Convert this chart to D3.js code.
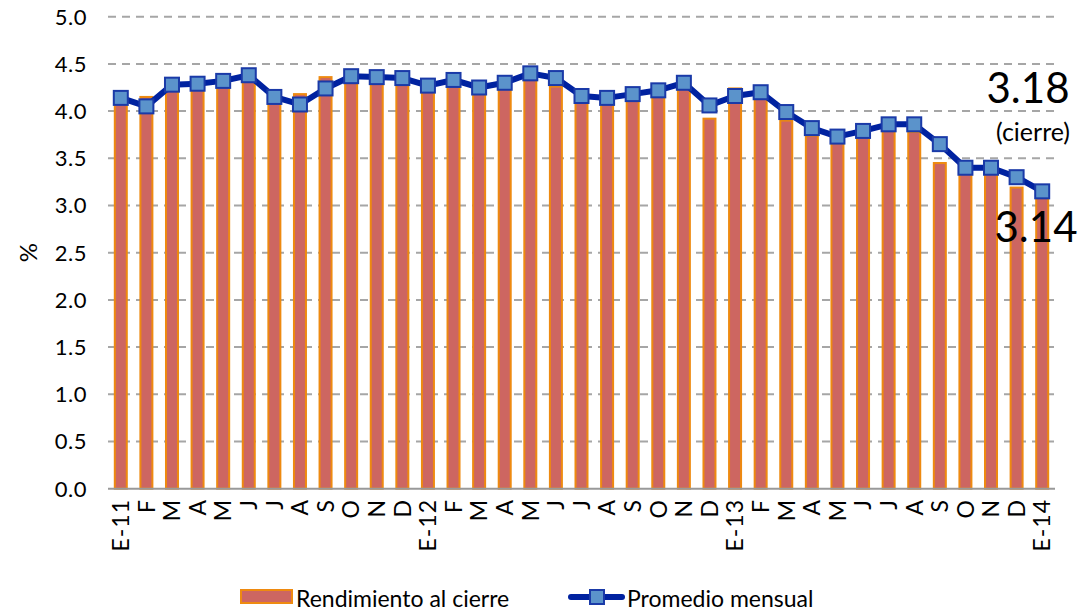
<!DOCTYPE html>
<html>
<head>
  <meta charset="UTF-8">
  <title>Rendimiento</title>
  <style>
    body { margin: 0; background: #fff; }
    svg { font-family: Lato, "DejaVu Sans", sans-serif; }
  </style>
</head>
<body>
  <svg id="chart" width="1079" height="611"></svg>

  <script src="https://d3js.org/d3.v7.min.js"></script>
  <script>
    // months E-11 .. E-14
    var months = ["E-11","F","M","A","M","J","J","A","S","O","N","D",
                  "E-12","F","M","A","M","J","J","A","S","O","N","D",
                  "E-13","F","M","A","M","J","J","A","S","O","N","D",
                  "E-14"];

    // end of month yield (bars)
    var cierre = [4.10,4.15,4.25,4.27,4.38,4.32,4.10,4.18,4.36,4.30,4.33,4.30,
                  4.22,4.28,4.18,4.25,4.34,4.26,4.10,4.10,4.12,4.15,4.25,3.92,
                  4.24,4.13,3.90,3.74,3.66,3.74,3.80,3.78,3.45,3.34,3.35,3.19,
                  3.18];

    // monthly average (line)
    var promedio = [4.14,4.05,4.28,4.29,4.32,4.38,4.15,4.07,4.24,4.37,4.36,4.35,
                    4.27,4.33,4.25,4.30,4.40,4.35,4.16,4.14,4.18,4.22,4.30,4.06,
                    4.16,4.20,3.99,3.82,3.73,3.79,3.86,3.86,3.65,3.40,3.40,3.30,
                    3.15];

    var yTicks = [0,0.5,1,1.5,2,2.5,3,3.5,4,4.5,5];

    var svg = d3.select("#chart");
    var plotLeft = 108, plotRight = 1055, plotTop = 16.7, plotBottom = 488.7;

    var x = d3.scaleBand()
      .domain(d3.range(months.length))
      .range([plotLeft, plotRight])
      .padding(0);

    var y = d3.scaleLinear()
      .domain([0, 5])
      .range([plotBottom, plotTop]);

    // grid lines
    svg.append("g")
      .selectAll("line")
      .data(yTicks.slice(1))
      .enter().append("line")
        .attr("x1", plotLeft)
        .attr("x2", plotRight)
        .attr("y1", function(d) { return y(d); })
        .attr("y2", function(d) { return y(d); })
        .attr("stroke", "#a6a6a6")
        .attr("stroke-width", 2)
        .attr("stroke-dasharray", "8,6");

    // y labels
    svg.append("g")
      .selectAll("text")
      .data(yTicks)
      .enter().append("text")
        .attr("x", 87)
        .attr("y", function(d) { return y(d); })
        .attr("dy", "0.36em")
        .attr("text-anchor", "end")
        .attr("font-size", 22)
        .attr("letter-spacing", 0.5)
        .attr("fill", "#000")
        .text(function(d) { return d3.format(".1f")(d); });

    svg.append("text")
      .attr("transform", "translate(37," + y(2.5) + ") rotate(-90)")
      .attr("text-anchor", "middle")
      .attr("font-size", 24)
      .text("%");

    // bars
    var bw = 12;
    svg.append("g")
      .selectAll("rect")
      .data(cierre)
      .enter().append("rect")
        .attr("x", function(d, i) { return x(i) + x.bandwidth() / 2 - bw / 2; })
        .attr("y", function(d) { return y(d); })
        .attr("width", bw)
        .attr("height", function(d) { return y(0) - y(d); })
        .attr("fill", "#cd6661")
        .attr("stroke", "#ee8a10")
        .attr("stroke-width", 2);

    // baseline
    svg.append("line")
      .attr("x1", plotLeft).attr("x2", plotRight)
      .attr("y1", y(0)).attr("y2", y(0))
      .attr("stroke", "#999")
      .attr("stroke-width", 2);

    // x labels
    svg.append("g")
      .selectAll("text")
      .data(months)
      .enter().append("text")
        .attr("transform", function(d, i) {
          return "translate(" + (x(i) + x.bandwidth() / 2) + ",499) rotate(-90)";
        })
        .attr("text-anchor", "end")
        .attr("dy", "0.36em")
        .attr("font-size", 23)
        .attr("letter-spacing", 1)
        .text(function(d) { return d; });

    // line
    var line = d3.line()
      .x(function(d, i) { return x(i) + x.bandwidth() / 2; })
      .y(function(d) { return y(d); });

    svg.append("path")
      .datum(promedio)
      .attr("d", line)
      .attr("fill", "none")
      .attr("stroke", "#0022a0")
      .attr("stroke-width", 6)
      .attr("stroke-linejoin", "round");

    var ms = 14;
    svg.append("g")
      .selectAll("rect")
      .data(promedio)
      .enter().append("rect")
        .attr("x", function(d, i) { return x(i) + x.bandwidth() / 2 - ms / 2; })
        .attr("y", function(d) { return y(d) - ms / 2; })
        .attr("width", ms)
        .attr("height", ms)
        .attr("fill", "#5b93cb")
        .attr("stroke", "#1a3aa8")
        .attr("stroke-width", 2);

    // annotations
    svg.append("text")
      .attr("x", 1028).attr("y", 103)
      .attr("text-anchor", "middle")
      .attr("font-size", 42)
      .text("3.18");
    svg.append("text")
      .attr("x", 1033).attr("y", 141)
      .attr("text-anchor", "middle")
      .attr("font-size", 25)
      .text("(cierre)");
    svg.append("text")
      .attr("x", 1036).attr("y", 242)
      .attr("text-anchor", "middle")
      .attr("font-size", 42)
      .text("3.14");

    // legend
    var lg = svg.append("g");
    lg.append("rect")
      .attr("x", 241).attr("y", 590)
      .attr("width", 51).attr("height", 13)
      .attr("fill", "#cd6661")
      .attr("stroke", "#ee8a10")
      .attr("stroke-width", 2);
    lg.append("text")
      .attr("x", 296).attr("y", 607)
      .attr("font-size", 23)
      .text("Rendimiento al cierre");

    lg.append("line")
      .attr("x1", 571).attr("x2", 622)
      .attr("y1", 597).attr("y2", 597)
      .attr("stroke", "#0022a0")
      .attr("stroke-width", 6)
      .attr("stroke-linecap", "round");
    lg.append("rect")
      .attr("x", 590).attr("y", 590)
      .attr("width", 14).attr("height", 14)
      .attr("fill", "#5b93cb")
      .attr("stroke", "#1a3aa8")
      .attr("stroke-width", 2);
    lg.append("text")
      .attr("x", 627).attr("y", 607)
      .attr("font-size", 23)
      .text("Promedio mensual");
  </script>
</body>
</html>
